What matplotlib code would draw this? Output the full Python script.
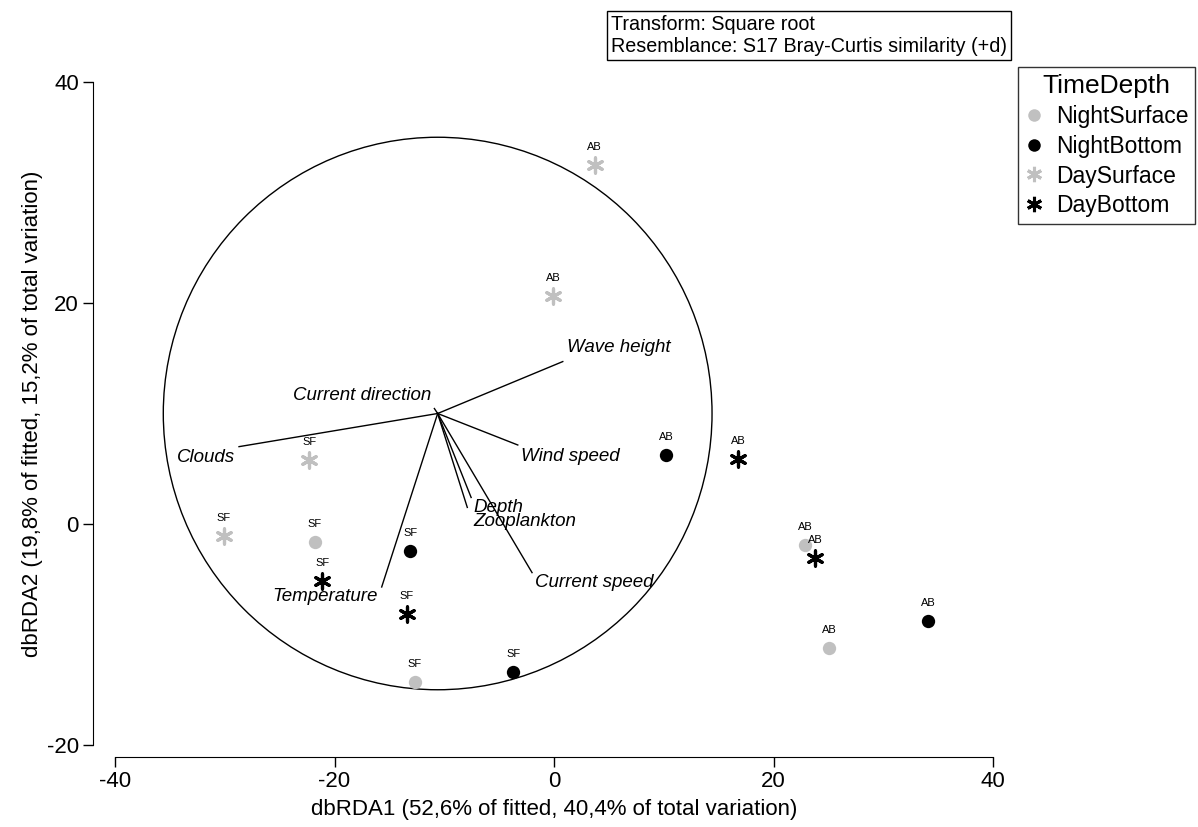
import matplotlib
matplotlib.use("Agg")
import matplotlib.pyplot as plt
from matplotlib.patches import Circle
from matplotlib.lines import Line2D

plt.rcParams['font.family'] = ['Liberation Sans', 'DejaVu Sans']
plt.rcParams['axes.unicode_minus'] = False

# --- sample scores (dbRDA1, dbRDA2) per group ---
night_surface_x = [-21.8, -12.7, 22.9, 25.1]
night_surface_y = [-1.6, -14.3, -1.9, -11.2]
night_surface_lab = ['SF', 'SF', 'AB', 'AB']

night_bottom_x = [-13.1, -3.7, 10.2, 34.1]
night_bottom_y = [-2.4, -13.4, 6.2, -8.8]
night_bottom_lab = ['SF', 'SF', 'AB', 'AB']

day_surface_x = [-30.1, -22.3, 3.7, -0.1]
day_surface_y = [-1.1, 5.8, 32.5, 20.6]
day_surface_lab = ['SF', 'SF', 'AB', 'AB']

day_bottom_x = [-21.1, -13.4, 16.8, 23.8]
day_bottom_y = [-5.2, -8.1, 5.9, -3.1]
day_bottom_lab = ['SF', 'SF', 'AB', 'AB']

# --- correlation circle and predictor vectors (relative to circle centre) ---
circle_center = (-10.6, 10.0)
circle_radius = 25.0
vec_names = ['Wave height', 'Current direction', 'Clouds', 'Wind speed',
             'Depth', 'Zooplankton', 'Current speed', 'Temperature']
vec_dx = [11.4, -0.3, -18.1, 7.3, 3.05, 2.7, 8.6, -5.1]
vec_dy = [4.7, 0.45, -3.0, -2.85, -7.6, -8.5, -14.4, -15.7]

x_ticks = [-40, -20, 0, 20, 40]
y_ticks = [-20, 0, 20, 40]

# label placement for each vector: (dx px, dy px, horizontal alignment)
vec_label_style = {
    'Wave height': (4, 14, 'left'),
    'Current direction': (-3, 13, 'right'),
    'Clouds': (-4, -11, 'right'),
    'Wind speed': (3, -12, 'left'),
    'Depth': (2, -10, 'left'),
    'Zooplankton': (6, -14, 'left'),
    'Current speed': (3, -10, 'left'),
    'Temperature': (-4, -10, 'right'),
}

W, H = 1198, 827
fig = plt.figure(figsize=(W / 100, H / 100), dpi=100)
ax = fig.add_axes([115 / W, 1 - 745 / H, (993 - 115) / W, (745 - 82) / H])
ax.set_xlim(-40, 40)
ax.set_ylim(-20, 40)

GRAY = '#c0c0c0'
groups = [
    ('NightSurface', night_surface_x, night_surface_y, night_surface_lab, GRAY, 'o'),
    ('NightBottom', night_bottom_x, night_bottom_y, night_bottom_lab, 'black', 'o'),
    ('DaySurface', day_surface_x, day_surface_y, day_surface_lab, GRAY, '*'),
    ('DayBottom', day_bottom_x, day_bottom_y, day_bottom_lab, 'black', '*'),
]

# correlation circle
ax.add_patch(Circle(circle_center, circle_radius, fill=False, edgecolor='black',
                    linewidth=1.0, clip_on=False, zorder=1))

# predictor vectors
cx, cy = circle_center
for name, dx, dy in zip(vec_names, vec_dx, vec_dy):
    ex, ey = cx + dx, cy + dy
    ax.plot([cx, ex], [cy, ey], color='black', linewidth=1.0, zorder=2,
            clip_on=False)
    ox, oy, ha = vec_label_style[name]
    ax.annotate(name, (ex, ey), xytext=(ox, oy), textcoords='offset pixels',
                ha=ha, va='center', fontsize=13.5, fontstyle='italic', zorder=3)

handles = []
for name, xs, ys, labs, col, kind in groups:
    if kind == 'o':
        ax.scatter(xs, ys, s=92, color=col, marker='o', linewidths=0,
                   zorder=4, clip_on=False)
        h = Line2D([], [], linestyle='none', marker='o', markersize=9,
                   markerfacecolor=col, markeredgewidth=0)
    else:
        ax.scatter(xs, ys, s=120, color=col, marker=(6, 2, 0), linewidths=2.3,
                   zorder=4, clip_on=False)
        h = Line2D([], [], linestyle='none', marker=(6, 2, 0), markersize=11,
                   color=col, markeredgewidth=2.2)
    handles.append(h)
    for x, y, t in zip(xs, ys, labs):
        ax.annotate(t, (x, y), xytext=(0, 18), textcoords='offset pixels',
                    ha='center', va='center', fontsize=8, zorder=5)

# detached axes
for s in ('top', 'right'):
    ax.spines[s].set_visible(False)
ax.spines['left'].set_position(('outward', 15.8))
ax.spines['bottom'].set_position(('outward', 8.6))
ax.spines['left'].set_bounds(-20, 40)
ax.spines['bottom'].set_bounds(-40, 40)
ax.set_xticks(x_ticks)
ax.set_yticks(y_ticks)
ax.tick_params(direction='out', length=7.2, width=1, labelsize=16, pad=3)
ax.set_xlabel('dbRDA1 (52,6% of fitted, 40,4% of total variation)',
              fontsize=16, labelpad=5)
ax.set_ylabel('dbRDA2 (19,8% of fitted, 15,2% of total variation)',
              fontsize=16, labelpad=3)

# legend
leg = fig.legend(handles, [g[0] for g in groups], title='TimeDepth',
                 loc='upper left', bbox_to_anchor=(1018 / W, 1 - 67 / H),
                 fontsize=16.5, title_fontsize=19, frameon=True, fancybox=False,
                 edgecolor='black', handlelength=0.8, handletextpad=0.55,
                 borderpad=0.3, labelspacing=0.3, borderaxespad=0)
leg.get_frame().set_linewidth(1.0)

# method note
fig.text(611 / W, 1 - 35.5 / H,
         'Transform: Square root\nResemblance: S17 Bray-Curtis similarity (+d)',
         ha='left', va='center', fontsize=14.2, linespacing=1.2,
         bbox=dict(boxstyle='square,pad=0.2', facecolor='white',
                   edgecolor='black', linewidth=1.0))

fig.savefig('out.png', dpi=100)
